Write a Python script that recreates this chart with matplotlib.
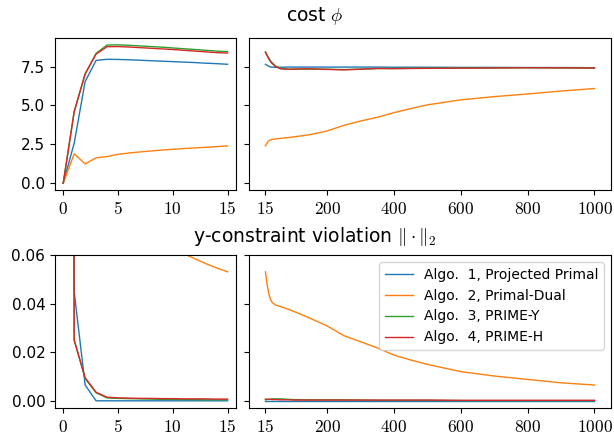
import matplotlib.pyplot as plt
import numpy as np

plt.rcParams['mathtext.fontset'] = 'cm'

labels = ['Algo.  1, Projected Primal', 'Algo.  2, Primal-Dual',
          'Algo.  3, PRIME-Y', 'Algo.  4, PRIME-H']

# first iterations 0..15
k_early = np.arange(16)
cost_early = [
  [0, 2.57, 6.54, 7.9, 7.97, 7.96, 7.94, 7.91, 7.88, 7.85, 7.82, 7.79, 7.76, 7.72, 7.69, 7.65],
  [0, 1.89, 1.24, 1.63, 1.71, 1.86, 1.94, 2.01, 2.07, 2.13, 2.18, 2.23, 2.27, 2.31, 2.35, 2.4],
  [0, 4.6, 7.03, 8.35, 8.89, 8.9, 8.87, 8.83, 8.79, 8.75, 8.7, 8.65, 8.6, 8.55, 8.5, 8.46],
  [0, 4.6, 7.03, 8.31, 8.78, 8.79, 8.76, 8.72, 8.68, 8.64, 8.6, 8.55, 8.5, 8.45, 8.4, 8.37],
]
viol_early = [
  [1.5, 0.0449, 0.0065, 0.0, 0.0, 0.0, 0.0, 0.0, 0.0, 0.0, 0.0, 0.0, 0.0, 0.0, 0.0, 0.0],
  [1.2, 0.6, 0.35, 0.22, 0.16, 0.12, 0.1, 0.085, 0.075, 0.068, 0.0635, 0.0606, 0.0585, 0.0565, 0.0547, 0.0531],
  [3.0, 0.025, 0.0092, 0.0033, 0.0012, 0.001, 0.0009, 0.0008, 0.0007, 0.0006, 0.0006, 0.0005, 0.0005, 0.0004, 0.0004, 0.0004],
  [3.0, 0.025, 0.0095, 0.0035, 0.0015, 0.0012, 0.0011, 0.001, 0.001, 0.0009, 0.0009, 0.0008, 0.0008, 0.0008, 0.0007, 0.0007],
]

# later iterations 15..1000
k_late = [15, 20, 25, 30, 35, 45, 60, 85, 100, 135, 150, 200, 250, 300, 350, 400, 450, 500, 600, 700, 800, 900, 1000]
cost_late = [
  [7.65, 7.58, 7.52, 7.48, 7.46, 7.45, 7.46, 7.47, 7.47, 7.47, 7.47, 7.47, 7.47, 7.47, 7.47, 7.46, 7.46, 7.46, 7.45, 7.45, 7.44, 7.44, 7.43],
  [2.4, 2.6, 2.72, 2.78, 2.81, 2.85, 2.88, 2.94, 2.98, 3.08, 3.13, 3.36, 3.72, 4.0, 4.24, 4.54, 4.8, 5.04, 5.36, 5.57, 5.74, 5.93, 6.09],
  [8.45, 8.25, 8.05, 7.88, 7.75, 7.55, 7.38, 7.33, 7.33, 7.34, 7.34, 7.33, 7.31, 7.34, 7.38, 7.38, 7.39, 7.4, 7.41, 7.42, 7.43, 7.42, 7.42],
  [8.42, 8.2, 8.0, 7.83, 7.7, 7.5, 7.36, 7.33, 7.34, 7.36, 7.36, 7.32, 7.29, 7.33, 7.38, 7.37, 7.38, 7.39, 7.4, 7.41, 7.43, 7.42, 7.41],
]
viol_late = [
  [0.0] * 23,
  [0.0531, 0.0478, 0.0442, 0.0418, 0.0405, 0.0394, 0.0388, 0.0376, 0.0368, 0.0348, 0.0339, 0.0308, 0.0268, 0.0243, 0.0218, 0.0188, 0.0168, 0.015, 0.012, 0.0102, 0.0088, 0.0074, 0.0065],
  [0.0004, 0.0005, 0.0006, 0.0007, 0.0008, 0.0008, 0.0008, 0.0006, 0.0005, 0.0004, 0.0004, 0.0004, 0.0004, 0.0003, 0.0002, 0.0002, 0.0002, 0.0002, 0.0001, 0.0001, 0.0001, 0.0001, 0.0001],
  [0.0007, 0.0007, 0.0006, 0.0006, 0.0005, 0.0005, 0.0004, 0.0004, 0.0003, 0.0003, 0.0003, 0.0003, 0.0003, 0.0003, 0.0003, 0.0003, 0.0003, 0.0003, 0.0002, 0.0002, 0.0002, 0.0002, 0.0002],
]

fig = plt.figure(figsize=(6.14, 4.36), dpi=100)
ax1 = fig.add_axes([0.0896, 0.564, 0.2944, 0.349])
ax2 = fig.add_axes([0.4055, 0.564, 0.5895, 0.349], sharey=ax1)
ax3 = fig.add_axes([0.0896, 0.064, 0.2944, 0.351])
ax4 = fig.add_axes([0.4055, 0.064, 0.5895, 0.351], sharey=ax3)

for i in range(4):
  ax1.plot(k_early, cost_early[i], lw=1)
  ax2.plot(k_late, cost_late[i], lw=1)
  ax3.plot(k_early, viol_early[i], lw=1)
  ax4.plot(k_late, viol_late[i], lw=1, label=labels[i])

ax3.set_ylim(-0.003, 0.06)
ax1.set_yticks([0, 2.5, 5, 7.5])
ax3.set_yticks([0, 0.02, 0.04, 0.06])

for ax in [ax1, ax3]:
  ax.set_xticks([0, 5, 10, 15])
  ax.set_xticklabels(['$0$', '$5$', '$10$', '$15$'])
for ax in [ax2, ax4]:
  ax.set_xticks([15, 200, 400, 600, 800, 1000])
  ax.set_xticklabels(['$15$', '$200$', '$400$', '$600$', '$800$', '$1000$'])
  ax.tick_params(axis='y', labelleft=False)
for ax in [ax1, ax2, ax3, ax4]:
  ax.tick_params(axis='x', labelsize=12.5)
  ax.tick_params(axis='y', labelsize=11)

ax4.legend(loc='upper right', fontsize=10)

fig.text(0.513, 0.937, r'cost $\phi$', ha='center', va='bottom', fontsize=13.5)
fig.text(0.513, 0.432, r'y-constraint violation $\|\cdot\|_2$', ha='center', va='bottom', fontsize=13.5)

plt.savefig('out.png')
